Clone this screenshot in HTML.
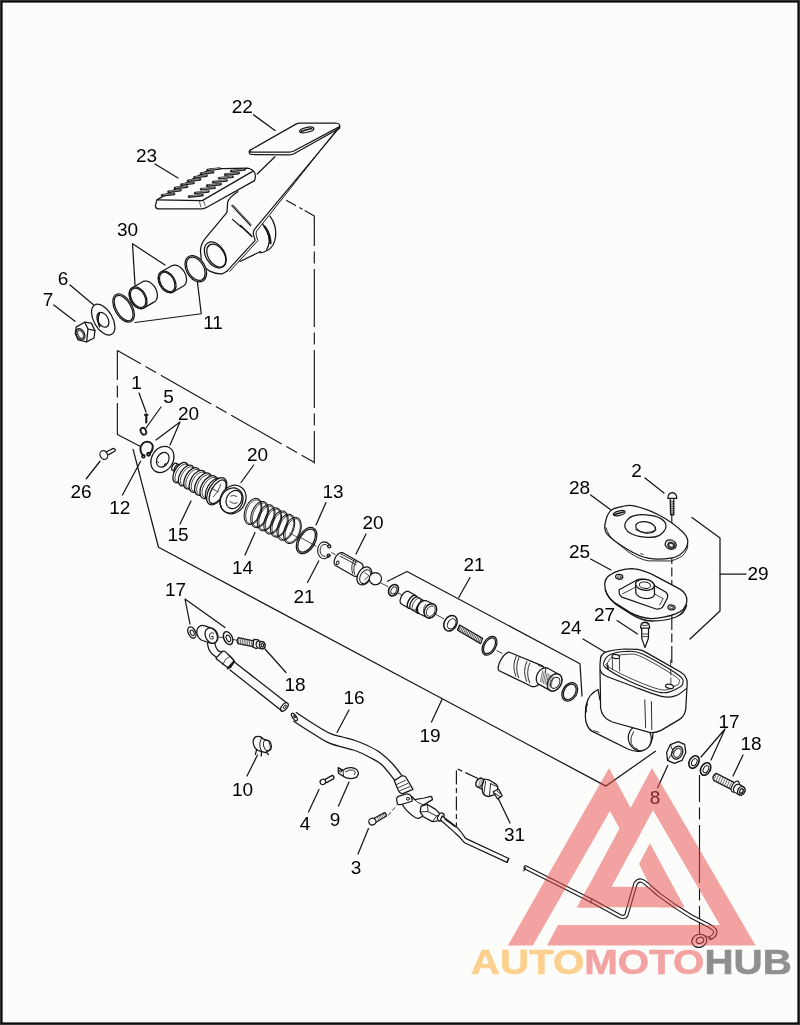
<!DOCTYPE html>
<html><head><meta charset="utf-8">
<style>
html,body{margin:0;padding:0;background:#fcfdfb;}
body{width:800px;height:1025px;overflow:hidden;position:relative;}
svg{position:absolute;left:0;top:0;}
.dr polyline,.dr path,.dr ellipse,.dr circle,.dr polygon,.dr line{fill:none;stroke:#161616;stroke-width:1.25;stroke-linejoin:round;stroke-linecap:round;}
.dr .d{stroke-dasharray:22 5;stroke-linecap:butt;}
.dr .d2{stroke-dasharray:4 2.5;stroke-linecap:butt;stroke-width:0.9;}
.lb text{font-family:"Liberation Sans",sans-serif;font-size:19px;text-anchor:middle;}
.logo polygon{fill:#e84a4a;stroke:none;}
.mb{mix-blend-mode:multiply;}
.brand{font-family:"Liberation Sans",sans-serif;font-weight:bold;font-size:35px;stroke-width:0.6px;}
</style></head><body>
<svg width="800" height="1025" viewBox="0 0 800 1025">
<rect x="0" y="0" width="800" height="1025" fill="#fcfdfb"/>
<g class="dr">
<polyline points="253.4,114.7 275,130.6"/>
<polyline points="155,164 178,178"/>
<polyline points="165,265 132.5,243.75 135,285"/>
<polyline points="70,285 93.75,305"/>
<polyline points="53.75,305 75,321.25"/>
<polyline points="197.5,282.5 201.25,313.75 135,322.5"/>
<polyline points="139,393 146,412"/>
<polyline points="161,407 146,428"/>
<polyline points="156,440 180,422 170,445"/>
<polyline points="100,461.25 86.25,478.75"/>
<polyline points="140.6,461.25 122.5,495"/>
<polyline points="253.75,465 241,482.5"/>
<polyline points="191,501 180,524"/>
<polyline points="255,532.5 245,555"/>
<polyline points="326,502.5 316,525"/>
<polyline points="318.75,561 307.5,582.5"/>
<polyline points="366,534 356,554"/>
<polyline points="470,577.5 458.75,597.5"/>
<polyline points="590.6,495 611,510"/>
<polyline points="645,478 664,493"/>
<polyline points="590.6,559 611,570"/>
<polyline points="617,620.6 637.5,634"/>
<polyline points="583,639 605.6,652.5"/>
<polyline points="190,624 185,599 225,627.5"/>
<polyline points="265,649 286,672.5"/>
<polyline points="349,710 337,732.5"/>
<polyline points="442,699.5 431.5,722"/>
<polyline points="701,757 725,729 711,760"/>
<polyline points="743,755 733,776"/>
<polyline points="257.5,755 247,776"/>
<polyline points="667.8,765.6 657.6,787.8"/>
<polyline points="319,789.5 308.5,812"/>
<polyline points="349,782 338.5,806"/>
<polyline points="498,798 510,823"/>
<polyline points="368.5,828.5 358,854"/>
<polyline points="133.1,449.4 158.5,547.25 605.9,786.1 655.4,751.25"/>
<polyline points="387.5,581.25 407,571.5 580,663.7 582,696"/>
<polyline points="692,517.5 720,538 720,611 690,639"/>
<polyline points="720,574 746,574"/>
<polyline points="286.2,200.2 314.3,216" style="stroke-dasharray:11.3 3.8 3.6 2.5 20;stroke-dashoffset:0;stroke-linecap:butt;stroke-width:1.15"/>
<polyline points="314.3,215.8 314.3,463.4" style="stroke-dasharray:58 5.4 12.2 5.4;stroke-dashoffset:27.8;stroke-linecap:butt;stroke-width:1.15"/>
<polyline points="117.35,350.5 314.5,462.6" style="stroke-dasharray:58 5.4 12.2 5.4;stroke-dashoffset:31;stroke-linecap:butt;stroke-width:1.15"/>
<polyline points="117.35,350.5 117.35,434.5 140.5,446.5" style="stroke-dasharray:58 5.4 12.2 5.4;stroke-dashoffset:28.5;stroke-linecap:butt;stroke-width:1.15"/>
<polyline points="671.8,514 671.8,700" style="stroke-dasharray:17 3.5 9 3.5;stroke-dashoffset:0;stroke-linecap:butt;stroke-width:1.15"/>
<polyline points="699.5,775 699.5,934" style="stroke-dasharray:58 5.4 12.2 5.4;stroke-dashoffset:31;stroke-linecap:butt;stroke-width:1.15"/>
<polyline points="478,778.6 456.4,768.4 456.4,829" style="stroke-dasharray:14 3.5 5 3.5;stroke-dashoffset:0;stroke-linecap:butt;stroke-width:1.15"/>
<path d="M340,126.8 L254.3,229.6 Q252.8,232 253.6,235 L255.2,240.3 L227.3,270.8" style="stroke-width:1.2"/>
<path d="M337.6,128.6 L256.6,231.2 Q255.6,233 256.3,235.5 L257.8,240.6 L229.8,271.3" style="stroke-width:1"/>
<path d="M249.8,150.4 L295.5,124.4 Q297.5,123.3 300,123.2 L335.8,123 Q340.2,123.4 339.6,126.6 L293.8,151 Q291.8,152 289.5,152 L252.5,152.1 Q248.6,152 249.8,150.4 Z" style="fill:#fcfdfb"/>
<path d="M249.3,151.2 Q248.8,154.3 251.8,154.5 L289.2,154.8 Q292.4,154.8 294.4,153.5 L339.6,128.3"/>
<ellipse cx="306.70" cy="129.90" rx="7.20" ry="2.40" transform="rotate(-12 306.70 129.90)" style="fill:#fcfdfb"/>
<path d="M301.5,131.2 L311.5,128.4" style="stroke-width:1.6"/>
<polyline points="257.20,174.00 275.00,156.80"/>
<path d="M238,191.5 Q228.5,197.8 227.6,202.5 L227,212.3 L205.5,238.2 Q199.8,245.5 200.6,252 L201.3,260.5 Q203.8,268.3 210.3,271.4 Q216.5,274.3 222.5,273.8 L227.3,271"/>
<polyline points="240.00,261.50 260.50,251.50"/>
<path d="M270,216.2 Q276.8,225.5 275.6,236.5 Q274.3,246.5 267.8,250.2 Q264,252.4 260,252.8"/>
<path d="M262.4,223.6 Q268.8,232 269.2,240 Q269,246.5 266.6,249.3"/>
<path d="M264.6,226.6 Q270.2,234 270.4,243" style="stroke-width:2.4;stroke-dasharray:1.2 1.3"/>
<ellipse cx="215.30" cy="255.00" rx="9.40" ry="14.20" transform="rotate(-31.7 215.30 255.00)"/>
<ellipse cx="216.30" cy="255.60" rx="8.00" ry="12.60" transform="rotate(-31.7 216.30 255.60)"/>
<polyline points="231.90,205.60 250.60,225.60"/>
<polyline points="232.90,204.80 251.20,224.60" style="stroke-width:0.8"/>
<polyline points="232.50,219.40 241.50,227.20"/>
<polyline points="240.60,225.60 251.90,236.30" style="stroke-width:1.6"/>
<path d="M156.9,199.9 L210.5,168.9 L247.6,168.2 Q252.5,169.2 254.6,172.6 Q256.2,176.6 254.5,180.6 L207.8,206.8 Q205,208.6 202.2,208.8 L158.5,208.9 Q155.3,208.6 155.4,205.5 Z" style="fill:#fcfdfb"/>
<path d="M157.2,199.9 L202.2,200.6 L252.2,171.6"/>
<polyline points="199.50,201.20 200.70,206.80" style="stroke-width:0.7"/>
<polyline points="203.60,201.00 205.20,205.40" style="stroke-width:0.7"/>
<path d="M162.00,195.40 L174.00,193.90" style="stroke-width:2.6;stroke:#222;stroke-linecap:round"/>
<path d="M163.20,194.90 L173.20,193.60" style="stroke-width:0.55;stroke:#e8e8e8"/>
<path d="M168.51,191.77 L180.51,190.27" style="stroke-width:2.6;stroke:#222;stroke-linecap:round"/>
<path d="M169.71,191.27 L179.71,189.97" style="stroke-width:0.55;stroke:#e8e8e8"/>
<path d="M175.03,188.14 L187.03,186.64" style="stroke-width:2.6;stroke:#222;stroke-linecap:round"/>
<path d="M176.23,187.64 L186.23,186.34" style="stroke-width:0.55;stroke:#e8e8e8"/>
<path d="M181.54,184.51 L193.54,183.01" style="stroke-width:2.6;stroke:#222;stroke-linecap:round"/>
<path d="M182.74,184.01 L192.74,182.71" style="stroke-width:0.55;stroke:#e8e8e8"/>
<path d="M188.06,180.89 L200.06,179.39" style="stroke-width:2.6;stroke:#222;stroke-linecap:round"/>
<path d="M189.26,180.39 L199.26,179.09" style="stroke-width:0.55;stroke:#e8e8e8"/>
<path d="M194.57,177.26 L206.57,175.76" style="stroke-width:2.6;stroke:#222;stroke-linecap:round"/>
<path d="M195.77,176.76 L205.77,175.46" style="stroke-width:0.55;stroke:#e8e8e8"/>
<path d="M201.09,173.63 L213.09,172.13" style="stroke-width:2.6;stroke:#222;stroke-linecap:round"/>
<path d="M202.29,173.13 L212.29,171.83" style="stroke-width:0.55;stroke:#e8e8e8"/>
<path d="M207.60,170.00 L219.60,168.50" style="stroke-width:2.6;stroke:#222;stroke-linecap:round"/>
<path d="M208.80,169.50 L218.80,168.20" style="stroke-width:0.55;stroke:#e8e8e8"/>
<path d="M189.00,196.60 L202.50,195.10" style="stroke-width:2.6;stroke:#222;stroke-linecap:round"/>
<path d="M190.20,196.10 L201.70,194.80" style="stroke-width:0.55;stroke:#e8e8e8"/>
<path d="M195.03,192.94 L208.53,191.44" style="stroke-width:2.6;stroke:#222;stroke-linecap:round"/>
<path d="M196.23,192.44 L207.73,191.14" style="stroke-width:0.55;stroke:#e8e8e8"/>
<path d="M201.06,189.29 L214.56,187.79" style="stroke-width:2.6;stroke:#222;stroke-linecap:round"/>
<path d="M202.26,188.79 L213.76,187.49" style="stroke-width:0.55;stroke:#e8e8e8"/>
<path d="M207.09,185.63 L220.59,184.13" style="stroke-width:2.6;stroke:#222;stroke-linecap:round"/>
<path d="M208.29,185.13 L219.79,183.83" style="stroke-width:0.55;stroke:#e8e8e8"/>
<path d="M213.11,181.97 L226.61,180.47" style="stroke-width:2.6;stroke:#222;stroke-linecap:round"/>
<path d="M214.31,181.47 L225.81,180.17" style="stroke-width:0.55;stroke:#e8e8e8"/>
<path d="M219.14,178.31 L232.64,176.81" style="stroke-width:2.6;stroke:#222;stroke-linecap:round"/>
<path d="M220.34,177.81 L231.84,176.51" style="stroke-width:0.55;stroke:#e8e8e8"/>
<path d="M225.17,174.66 L238.67,173.16" style="stroke-width:2.6;stroke:#222;stroke-linecap:round"/>
<path d="M226.37,174.16 L237.87,172.86" style="stroke-width:0.55;stroke:#e8e8e8"/>
<path d="M231.20,171.00 L244.70,169.50" style="stroke-width:2.6;stroke:#222;stroke-linecap:round"/>
<path d="M232.40,170.50 L243.90,169.20" style="stroke-width:0.55;stroke:#e8e8e8"/>
<ellipse cx="195.80" cy="268.75" rx="9.44" ry="14.11" transform="rotate(-30 195.80 268.75)" style="fill:#fcfdfb"/>
<ellipse cx="195.80" cy="268.75" rx="8.04" ry="12.61" transform="rotate(-30 195.80 268.75)"/>
<polygon points="158.30,278.51 158.32,277.53 158.43,276.58 158.62,275.68 158.89,274.85 159.25,274.08 159.68,273.39 160.18,272.78 160.75,272.25 161.38,271.82 171.78,265.82 172.47,265.49 173.21,265.26 173.99,265.13 174.80,265.10 175.65,265.18 176.51,265.36 177.38,265.64 178.25,266.03 179.12,266.50 179.97,267.07 180.80,267.72 181.60,268.45 182.36,269.25 183.07,270.12 183.73,271.04 184.34,272.01 184.87,273.02 185.34,274.05 185.73,275.10 186.05,276.16 186.28,277.22 186.43,278.26 186.50,279.29 186.48,280.27 186.37,281.22 186.18,282.12 185.91,282.95 185.55,283.72 185.12,284.41 184.62,285.02 184.05,285.55 183.42,285.98 173.02,291.98 172.33,292.31 171.59,292.54 170.81,292.67 170.00,292.70 169.15,292.62 168.29,292.44 167.42,292.16 166.55,291.77 165.68,291.30 164.83,290.73 164.00,290.08 163.20,289.35 162.44,288.55 161.73,287.68 161.07,286.76 160.46,285.79 159.93,284.78 159.46,283.75 159.07,282.70 158.75,281.64 158.52,280.58 158.37,279.54" style="fill:#fcfdfb"/>
<ellipse cx="167.20" cy="281.90" rx="7.78" ry="11.63" transform="rotate(-30 167.20 281.90)" style="fill:#fcfdfb"/>
<ellipse cx="167.20" cy="281.90" rx="6.68" ry="10.43" transform="rotate(-30 167.20 281.90)"/>
<polygon points="129.20,294.41 129.22,293.43 129.33,292.48 129.52,291.58 129.79,290.75 130.15,289.98 130.58,289.29 131.08,288.68 131.65,288.15 132.28,287.72 142.68,281.72 143.37,281.39 144.11,281.16 144.89,281.03 145.70,281.00 146.55,281.08 147.41,281.26 148.28,281.54 149.15,281.93 150.02,282.40 150.87,282.97 151.70,283.62 152.50,284.35 153.26,285.15 153.97,286.02 154.63,286.94 155.24,287.91 155.77,288.92 156.24,289.95 156.63,291.00 156.95,292.06 157.18,293.12 157.33,294.16 157.40,295.19 157.38,296.17 157.27,297.12 157.08,298.02 156.81,298.85 156.45,299.62 156.02,300.31 155.52,300.92 154.95,301.45 154.32,301.88 143.92,307.88 143.23,308.21 142.49,308.44 141.71,308.57 140.90,308.60 140.05,308.52 139.19,308.34 138.32,308.06 137.45,307.67 136.58,307.20 135.73,306.63 134.90,305.98 134.10,305.25 133.34,304.45 132.63,303.58 131.97,302.66 131.36,301.69 130.83,300.68 130.36,299.65 129.97,298.60 129.65,297.54 129.42,296.48 129.27,295.44" style="fill:#fcfdfb"/>
<ellipse cx="138.10" cy="297.80" rx="7.78" ry="11.63" transform="rotate(-30 138.10 297.80)" style="fill:#fcfdfb"/>
<ellipse cx="138.10" cy="297.80" rx="6.68" ry="10.43" transform="rotate(-30 138.10 297.80)"/>
<ellipse cx="123.60" cy="308.10" rx="8.69" ry="15.49" transform="rotate(-30 123.60 308.10)" style="fill:#fcfdfb"/>
<ellipse cx="123.60" cy="308.10" rx="7.29" ry="13.99" transform="rotate(-30 123.60 308.10)"/>
<ellipse cx="103.20" cy="319.60" rx="9.31" ry="16.95" transform="rotate(-30 103.20 319.60)" style="fill:#fcfdfb"/>
<ellipse cx="102.90" cy="319.80" rx="5.20" ry="8.00" transform="rotate(-30 102.90 319.80)"/>
<path d="M99.4,313.4 Q96.6,319.6 99.6,326.6" style="stroke-width:1.6"/>
<polygon points="76.30,326.90 84.70,322.20 91.30,323.10 95.00,330.60 94.00,338.00 86.60,341.90 78.10,340.00 75.30,333.40" style="fill:#fcfdfb"/>
<polyline points="84.70,322.20 88.00,329.00 86.60,341.90"/>
<polyline points="88.00,329.00 95.00,330.60"/>
<ellipse cx="80.40" cy="334.30" rx="4.00" ry="6.00" transform="rotate(-25 80.40 334.30)" style="fill:#fcfdfb"/>
<ellipse cx="80.60" cy="334.40" rx="2.60" ry="4.40" transform="rotate(-25 80.60 334.40)" style="stroke-width:1.5;stroke:#555"/>
<path d="M146.25,415 L146.25,422.5" style="stroke-width:2.1"/>
<path d="M144.6,415.2 Q146.25,412.6 147.9,415.2" style="stroke-width:1.5"/>
<ellipse cx="143.40" cy="431.25" rx="2.60" ry="3.60" transform="rotate(-25 143.40 431.25)" style="stroke-width:1.8"/>
<path d="M106.6,451.8 L113.2,448.4 Q115.6,448.8 115.2,451 L108.6,454.6" style="fill:#fcfdfb"/>
<ellipse cx="103.80" cy="455.00" rx="3.60" ry="4.60" transform="rotate(-28 103.80 455.00)" style="fill:#fcfdfb"/>
<path d="M143.2,455.6 Q139.6,451.6 140.6,447 Q142.6,441.6 147.4,441.6 Q152.6,442.4 152.8,446.6 Q152.8,451 149.6,453.6" style="stroke-width:1.9"/>
<ellipse cx="143.40" cy="456.20" rx="1.50" ry="1.50" transform="rotate(0 143.40 456.20)" style="stroke-width:1.5"/>
<ellipse cx="148.60" cy="454.20" rx="1.50" ry="1.50" transform="rotate(0 148.60 454.20)" style="stroke-width:1.9"/>
<ellipse cx="162.40" cy="459.40" rx="10.77" ry="13.79" transform="rotate(30 162.40 459.40)" style="fill:#fcfdfb"/>
<ellipse cx="162.75" cy="459.75" rx="5.80" ry="7.80" transform="rotate(30 162.75 459.75)"/>
<path d="M160,454.2 l1.8,-0.8 M165.8,463.4 l-1.6,1.2 M157.6,461.6 l1.2,1.2" style="stroke-width:1.0"/>
<polygon points="171.64,468.47 171.66,468.15 171.70,467.81 171.78,467.46 171.87,467.11 172.00,466.75 172.14,466.40 172.31,466.04 172.49,465.70 172.70,465.37 172.92,465.05 173.16,464.74 173.41,464.46 173.66,464.20 173.93,463.96 174.20,463.75 174.47,463.57 174.74,463.42 175.00,463.31 175.27,463.23 175.52,463.18 175.76,463.17 175.99,463.19 176.20,463.24 176.40,463.34 179.00,464.74 179.18,464.86 179.33,465.02 179.47,465.20 179.58,465.42 179.66,465.66 179.72,465.93 179.75,466.22 179.76,466.53 179.74,466.85 179.70,467.19 179.62,467.54 179.53,467.89 179.40,468.25 179.26,468.60 179.09,468.96 178.91,469.30 178.70,469.63 178.48,469.95 178.24,470.26 177.99,470.54 177.74,470.80 177.47,471.04 177.20,471.25 176.93,471.43 176.66,471.58 176.40,471.69 176.13,471.77 175.88,471.82 175.64,471.83 175.41,471.81 175.20,471.76 175.00,471.66 172.40,470.26 172.22,470.14 172.07,469.98 171.93,469.80 171.82,469.58 171.74,469.34 171.68,469.07 171.65,468.78" style="fill:#fcfdfb"/>
<ellipse cx="177.00" cy="468.20" rx="2.20" ry="4.00" transform="rotate(30 177.00 468.20)" style="fill:#fcfdfb"/>
<ellipse cx="180.50" cy="472.60" rx="6.00" ry="11.20" transform="rotate(30 180.50 472.60)" style="fill:#fcfdfb"/>
<ellipse cx="181.60" cy="473.15" rx="5.10" ry="10.00" transform="rotate(30 181.60 473.15)" style="stroke-width:0.7"/>
<ellipse cx="186.17" cy="475.50" rx="6.27" ry="11.47" transform="rotate(30 186.17 475.50)" style="fill:#fcfdfb"/>
<ellipse cx="187.27" cy="476.05" rx="5.37" ry="10.27" transform="rotate(30 187.27 476.05)" style="stroke-width:0.7"/>
<ellipse cx="191.83" cy="478.40" rx="6.53" ry="11.73" transform="rotate(30 191.83 478.40)" style="fill:#fcfdfb"/>
<ellipse cx="192.93" cy="478.95" rx="5.63" ry="10.53" transform="rotate(30 192.93 478.95)" style="stroke-width:0.7"/>
<ellipse cx="197.50" cy="481.30" rx="6.80" ry="12.00" transform="rotate(30 197.50 481.30)" style="fill:#fcfdfb"/>
<ellipse cx="198.60" cy="481.85" rx="5.90" ry="10.80" transform="rotate(30 198.60 481.85)" style="stroke-width:0.7"/>
<ellipse cx="203.17" cy="484.20" rx="7.07" ry="12.27" transform="rotate(30 203.17 484.20)" style="fill:#fcfdfb"/>
<ellipse cx="204.27" cy="484.75" rx="6.17" ry="11.07" transform="rotate(30 204.27 484.75)" style="stroke-width:0.7"/>
<ellipse cx="208.83" cy="487.10" rx="7.33" ry="12.53" transform="rotate(30 208.83 487.10)" style="fill:#fcfdfb"/>
<ellipse cx="209.93" cy="487.65" rx="6.43" ry="11.33" transform="rotate(30 209.93 487.65)" style="stroke-width:0.7"/>
<ellipse cx="214.50" cy="490.00" rx="7.60" ry="12.80" transform="rotate(30 214.50 490.00)" style="fill:#fcfdfb"/>
<ellipse cx="215.60" cy="490.55" rx="6.70" ry="11.60" transform="rotate(30 215.60 490.55)" style="stroke-width:0.7"/>
<ellipse cx="216.75" cy="491.25" rx="7.87" ry="14.91" transform="rotate(30 216.75 491.25)" style="fill:#fcfdfb"/>
<ellipse cx="217.60" cy="491.80" rx="6.27" ry="13.11" transform="rotate(30 217.60 491.80)"/>
<path d="M211.6,488.4 L217.8,491.6 M213.4,496.6 L217.8,491.6 M217.8,491.6 L220.6,484.6" style="stroke-width:0.8"/>
<ellipse cx="233.00" cy="499.50" rx="12.49" ry="14.79" transform="rotate(30 233.00 499.50)" style="fill:#fcfdfb"/>
<ellipse cx="231.60" cy="500.50" rx="10.89" ry="12.99" transform="rotate(30 231.60 500.50)"/>
<ellipse cx="234.00" cy="499.50" rx="7.40" ry="9.60" transform="rotate(30 234.00 499.50)"/>
<path d="M230.6,496 Q233.6,494.6 236.8,496.4 M229.8,501.6 Q233,504.6 237.2,503" style="stroke-width:0.8"/>
<polygon points="260.52,514.14 260.08,515.24 259.60,516.31 259.06,517.35 258.47,518.34 257.85,519.28 257.18,520.16 256.49,520.97 255.77,521.71 255.03,522.37 254.27,522.95 253.50,523.44 252.73,523.84 251.96,524.14 251.20,524.34 250.45,524.45 249.72,524.46 249.02,524.37 248.35,524.18 247.71,523.89 247.11,523.51 246.56,523.04 246.06,522.47 245.61,521.83 245.21,521.10 244.88,520.30 244.60,519.43 244.40,518.50 244.25,517.52 244.17,516.49 244.16,515.42 244.22,514.32 244.34,513.20 244.53,512.06 244.79,510.92 245.11,509.79 245.48,508.66 245.92,507.56 246.40,506.49 246.94,505.45 247.53,504.46 248.15,503.52 248.82,502.64 249.51,501.83 250.23,501.09 250.97,500.43 251.73,499.85 252.50,499.36 253.27,498.96 254.04,498.66 254.80,498.46 255.55,498.35 256.28,498.34 256.98,498.43 257.65,498.62 258.29,498.91 258.89,499.29 259.44,499.76 259.94,500.33 260.39,500.97 260.79,501.70 261.12,502.50 261.40,503.37 261.60,504.30 261.75,505.28 261.83,506.31 261.84,507.38 261.78,508.48 261.66,509.60 261.47,510.74 261.21,511.88 260.89,513.01" style="stroke-width:1.05"/>
<polygon points="259.60,513.89 259.21,514.89 258.77,515.86 258.29,516.80 257.78,517.71 257.23,518.56 256.65,519.36 256.04,520.11 255.42,520.78 254.78,521.39 254.12,521.93 253.47,522.38 252.80,522.76 252.15,523.04 251.50,523.24 250.87,523.36 250.25,523.38 249.66,523.31 249.09,523.16 248.56,522.91 248.06,522.58 247.61,522.17 247.19,521.68 246.83,521.11 246.51,520.46 246.24,519.75 246.03,518.98 245.87,518.15 245.77,517.27 245.73,516.35 245.74,515.39 245.82,514.41 245.94,513.40 246.13,512.38 246.37,511.35 246.66,510.32 247.00,509.31 247.39,508.31 247.83,507.34 248.31,506.40 248.82,505.49 249.37,504.64 249.95,503.84 250.56,503.09 251.18,502.42 251.82,501.81 252.48,501.27 253.13,500.82 253.80,500.44 254.45,500.16 255.10,499.96 255.73,499.84 256.35,499.82 256.94,499.89 257.51,500.04 258.04,500.29 258.54,500.62 258.99,501.03 259.41,501.52 259.77,502.09 260.09,502.74 260.36,503.45 260.57,504.22 260.73,505.05 260.83,505.93 260.87,506.85 260.86,507.81 260.78,508.79 260.66,509.80 260.47,510.82 260.23,511.85 259.94,512.88" style="stroke-width:0.9"/>
<polygon points="267.08,517.30 266.65,518.41 266.16,519.48 265.62,520.52 265.04,521.51 264.41,522.45 263.75,523.33 263.06,524.14 262.34,524.88 261.59,525.54 260.84,526.12 260.07,526.60 259.30,527.00 258.53,527.31 257.77,527.51 257.02,527.62 256.29,527.63 255.59,527.54 254.92,527.35 254.28,527.06 253.68,526.68 253.13,526.20 252.62,525.64 252.17,524.99 251.78,524.27 251.44,523.47 251.17,522.60 250.96,521.67 250.82,520.69 250.74,519.66 250.73,518.59 250.79,517.49 250.91,516.37 251.10,515.23 251.36,514.09 251.67,512.95 252.05,511.83 252.48,510.73 252.97,509.65 253.51,508.62 254.09,507.62 254.72,506.69 255.38,505.81 256.08,505.00 256.80,504.26 257.54,503.60 258.30,503.02 259.07,502.53 259.84,502.13 260.61,501.83 261.37,501.62 262.11,501.51 262.84,501.51 263.55,501.60 264.22,501.79 264.86,502.07 265.45,502.46 266.01,502.93 266.51,503.49 266.96,504.14 267.35,504.87 267.69,505.67 267.96,506.54 268.17,507.46 268.32,508.45 268.39,509.48 268.40,510.55 268.35,511.65 268.22,512.77 268.03,513.90 267.78,515.04 267.46,516.18" style="stroke-width:1.05"/>
<polygon points="266.16,517.06 265.77,518.06 265.34,519.03 264.86,519.97 264.34,520.87 263.79,521.73 263.22,522.53 262.61,523.27 261.99,523.95 261.34,524.56 260.69,525.09 260.03,525.55 259.37,525.92 258.71,526.21 258.07,526.41 257.43,526.52 256.82,526.55 256.22,526.48 255.66,526.32 255.13,526.08 254.63,525.75 254.17,525.34 253.76,524.84 253.39,524.27 253.08,523.63 252.81,522.92 252.60,522.15 252.44,521.32 252.34,520.44 252.30,519.52 252.31,518.56 252.38,517.57 252.51,516.57 252.70,515.54 252.94,514.52 253.23,513.49 253.57,512.48 253.96,511.48 254.40,510.50 254.87,509.56 255.39,508.66 255.94,507.81 256.52,507.00 257.12,506.26 257.75,505.58 258.39,504.97 259.04,504.44 259.70,503.98 260.36,503.61 261.02,503.32 261.67,503.12 262.30,503.01 262.92,502.99 263.51,503.05 264.07,503.21 264.61,503.45 265.10,503.78 265.56,504.20 265.97,504.69 266.34,505.26 266.66,505.90 266.92,506.61 267.14,507.39 267.29,508.21 267.39,509.09 267.44,510.01 267.42,510.97 267.35,511.96 267.22,512.97 267.04,513.99 266.80,515.02 266.51,516.04" style="stroke-width:0.9"/>
<polygon points="273.65,520.47 273.22,521.57 272.73,522.65 272.19,523.68 271.61,524.68 270.98,525.61 270.32,526.49 269.62,527.30 268.90,528.04 268.16,528.70 267.40,529.28 266.63,529.77 265.86,530.17 265.09,530.47 264.33,530.68 263.59,530.79 262.86,530.79 262.15,530.70 261.48,530.51 260.84,530.23 260.25,529.84 259.69,529.37 259.19,528.81 258.74,528.16 258.35,527.43 258.01,526.63 257.74,525.76 257.53,524.84 257.38,523.85 257.31,522.82 257.30,521.75 257.35,520.65 257.48,519.53 257.67,518.40 257.92,517.26 258.24,516.12 258.62,515.00 259.05,513.89 259.54,512.82 260.08,511.78 260.66,510.79 261.29,509.85 261.95,508.97 262.64,508.16 263.36,507.42 264.11,506.76 264.86,506.18 265.63,505.70 266.40,505.30 267.17,504.99 267.93,504.79 268.68,504.68 269.41,504.67 270.11,504.76 270.78,504.95 271.42,505.24 272.02,505.62 272.57,506.10 273.08,506.66 273.53,507.31 273.92,508.03 274.26,508.83 274.53,509.70 274.74,510.63 274.88,511.61 274.96,512.64 274.97,513.71 274.91,514.81 274.79,515.93 274.60,517.07 274.34,518.21 274.03,519.35" style="stroke-width:1.05"/>
<polygon points="272.73,520.22 272.34,521.22 271.90,522.20 271.43,523.14 270.91,524.04 270.36,524.89 269.78,525.70 269.18,526.44 268.55,527.12 267.91,527.73 267.26,528.26 266.60,528.72 265.94,529.09 265.28,529.38 264.63,529.58 264.00,529.69 263.38,529.71 262.79,529.65 262.23,529.49 261.69,529.25 261.20,528.92 260.74,528.50 260.33,528.01 259.96,527.44 259.64,526.80 259.38,526.09 259.16,525.31 259.01,524.49 258.91,523.61 258.86,522.69 258.88,521.73 258.95,520.74 259.08,519.73 259.26,518.71 259.50,517.68 259.79,516.66 260.14,515.64 260.53,514.64 260.96,513.67 261.44,512.73 261.96,511.83 262.51,510.97 263.08,510.17 263.69,509.43 264.31,508.75 264.96,508.14 265.61,507.61 266.27,507.15 266.93,506.78 267.59,506.49 268.23,506.29 268.87,506.18 269.48,506.15 270.08,506.22 270.64,506.38 271.17,506.62 271.67,506.95 272.13,507.36 272.54,507.86 272.91,508.43 273.22,509.07 273.49,509.78 273.70,510.55 273.86,511.38 273.96,512.26 274.00,513.18 273.99,514.14 273.92,515.13 273.79,516.13 273.60,517.16 273.36,518.18 273.07,519.21" style="stroke-width:0.9"/>
<polygon points="280.22,523.64 279.78,524.74 279.30,525.81 278.76,526.85 278.17,527.84 277.55,528.78 276.88,529.66 276.19,530.47 275.47,531.21 274.73,531.87 273.97,532.45 273.20,532.94 272.43,533.34 271.66,533.64 270.90,533.84 270.15,533.95 269.42,533.96 268.72,533.87 268.05,533.68 267.41,533.39 266.81,533.01 266.26,532.54 265.76,531.97 265.31,531.33 264.91,530.60 264.58,529.80 264.30,528.93 264.10,528.00 263.95,527.02 263.87,525.99 263.86,524.92 263.92,523.82 264.04,522.70 264.23,521.56 264.49,520.42 264.81,519.29 265.18,518.16 265.62,517.06 266.10,515.99 266.64,514.95 267.23,513.96 267.85,513.02 268.52,512.14 269.21,511.33 269.93,510.59 270.67,509.93 271.43,509.35 272.20,508.86 272.97,508.46 273.74,508.16 274.50,507.96 275.25,507.85 275.98,507.84 276.68,507.93 277.35,508.12 277.99,508.41 278.59,508.79 279.14,509.26 279.64,509.83 280.09,510.47 280.49,511.20 280.82,512.00 281.10,512.87 281.30,513.80 281.45,514.78 281.53,515.81 281.54,516.88 281.48,517.98 281.36,519.10 281.17,520.24 280.91,521.38 280.59,522.51" style="stroke-width:1.05"/>
<polygon points="279.30,523.39 278.91,524.39 278.47,525.36 277.99,526.30 277.48,527.21 276.93,528.06 276.35,528.86 275.74,529.61 275.12,530.28 274.48,530.89 273.82,531.43 273.17,531.88 272.50,532.26 271.85,532.54 271.20,532.74 270.57,532.86 269.95,532.88 269.36,532.81 268.79,532.66 268.26,532.41 267.76,532.08 267.31,531.67 266.89,531.18 266.53,530.61 266.21,529.96 265.94,529.25 265.73,528.48 265.57,527.65 265.47,526.77 265.43,525.85 265.44,524.89 265.52,523.91 265.64,522.90 265.83,521.88 266.07,520.85 266.36,519.82 266.70,518.81 267.09,517.81 267.53,516.84 268.01,515.90 268.52,514.99 269.07,514.14 269.65,513.34 270.26,512.59 270.88,511.92 271.52,511.31 272.18,510.77 272.83,510.32 273.50,509.94 274.15,509.66 274.80,509.46 275.43,509.34 276.05,509.32 276.64,509.39 277.21,509.54 277.74,509.79 278.24,510.12 278.69,510.53 279.11,511.02 279.47,511.59 279.79,512.24 280.06,512.95 280.27,513.72 280.43,514.55 280.53,515.43 280.57,516.35 280.56,517.31 280.48,518.29 280.36,519.30 280.17,520.32 279.93,521.35 279.64,522.38" style="stroke-width:0.9"/>
<polygon points="286.78,526.80 286.35,527.91 285.86,528.98 285.32,530.02 284.74,531.01 284.11,531.95 283.45,532.83 282.76,533.64 282.04,534.38 281.29,535.04 280.54,535.62 279.77,536.10 279.00,536.50 278.23,536.81 277.47,537.01 276.72,537.12 275.99,537.13 275.29,537.04 274.62,536.85 273.98,536.56 273.38,536.18 272.83,535.70 272.32,535.14 271.87,534.49 271.48,533.77 271.14,532.97 270.87,532.10 270.66,531.17 270.52,530.19 270.44,529.16 270.43,528.09 270.49,526.99 270.61,525.87 270.80,524.73 271.06,523.59 271.37,522.45 271.75,521.33 272.18,520.23 272.67,519.15 273.21,518.12 273.79,517.12 274.42,516.19 275.08,515.31 275.78,514.50 276.50,513.76 277.24,513.10 278.00,512.52 278.77,512.03 279.54,511.63 280.31,511.33 281.07,511.12 281.81,511.01 282.54,511.01 283.25,511.10 283.92,511.29 284.56,511.57 285.15,511.96 285.71,512.43 286.21,512.99 286.66,513.64 287.05,514.37 287.39,515.17 287.66,516.04 287.87,516.96 288.02,517.95 288.09,518.98 288.10,520.05 288.05,521.15 287.92,522.27 287.73,523.40 287.48,524.54 287.16,525.68" style="stroke-width:1.05"/>
<polygon points="285.86,526.56 285.47,527.56 285.04,528.53 284.56,529.47 284.04,530.37 283.49,531.23 282.92,532.03 282.31,532.77 281.69,533.45 281.04,534.06 280.39,534.59 279.73,535.05 279.07,535.42 278.41,535.71 277.77,535.91 277.13,536.02 276.52,536.05 275.92,535.98 275.36,535.82 274.83,535.58 274.33,535.25 273.87,534.84 273.46,534.34 273.09,533.77 272.78,533.13 272.51,532.42 272.30,531.65 272.14,530.82 272.04,529.94 272.00,529.02 272.01,528.06 272.08,527.07 272.21,526.07 272.40,525.04 272.64,524.02 272.93,522.99 273.27,521.98 273.66,520.98 274.10,520.00 274.57,519.06 275.09,518.16 275.64,517.31 276.22,516.50 276.82,515.76 277.45,515.08 278.09,514.47 278.74,513.94 279.40,513.48 280.06,513.11 280.72,512.82 281.37,512.62 282.00,512.51 282.62,512.49 283.21,512.55 283.77,512.71 284.31,512.95 284.80,513.28 285.26,513.70 285.67,514.19 286.04,514.76 286.36,515.40 286.62,516.11 286.84,516.89 286.99,517.71 287.09,518.59 287.14,519.51 287.12,520.47 287.05,521.46 286.92,522.47 286.74,523.49 286.50,524.52 286.21,525.54" style="stroke-width:0.9"/>
<polygon points="293.35,529.97 292.92,531.07 292.43,532.15 291.89,533.18 291.31,534.18 290.68,535.11 290.02,535.99 289.32,536.80 288.60,537.54 287.86,538.20 287.10,538.78 286.33,539.27 285.56,539.67 284.79,539.97 284.03,540.18 283.29,540.29 282.56,540.29 281.85,540.20 281.18,540.01 280.54,539.73 279.95,539.34 279.39,538.87 278.89,538.31 278.44,537.66 278.05,536.93 277.71,536.13 277.44,535.26 277.23,534.34 277.08,533.35 277.01,532.32 277.00,531.25 277.05,530.15 277.18,529.03 277.37,527.90 277.62,526.76 277.94,525.62 278.32,524.50 278.75,523.39 279.24,522.32 279.78,521.28 280.36,520.29 280.99,519.35 281.65,518.47 282.34,517.66 283.06,516.92 283.81,516.26 284.56,515.68 285.33,515.20 286.10,514.80 286.87,514.49 287.63,514.29 288.38,514.18 289.11,514.17 289.81,514.26 290.48,514.45 291.12,514.74 291.72,515.12 292.27,515.60 292.78,516.16 293.23,516.81 293.62,517.53 293.96,518.33 294.23,519.20 294.44,520.13 294.58,521.11 294.66,522.14 294.67,523.21 294.61,524.31 294.49,525.43 294.30,526.57 294.04,527.71 293.73,528.85" style="stroke-width:1.05"/>
<polygon points="292.43,529.72 292.04,530.72 291.60,531.70 291.13,532.64 290.61,533.54 290.06,534.39 289.48,535.20 288.88,535.94 288.25,536.62 287.61,537.23 286.96,537.76 286.30,538.22 285.64,538.59 284.98,538.88 284.33,539.08 283.70,539.19 283.08,539.21 282.49,539.15 281.93,538.99 281.39,538.75 280.90,538.42 280.44,538.00 280.03,537.51 279.66,536.94 279.34,536.30 279.08,535.59 278.86,534.81 278.71,533.99 278.61,533.11 278.56,532.19 278.58,531.23 278.65,530.24 278.78,529.23 278.96,528.21 279.20,527.18 279.49,526.16 279.84,525.14 280.23,524.14 280.66,523.17 281.14,522.23 281.66,521.33 282.21,520.47 282.78,519.67 283.39,518.93 284.01,518.25 284.66,517.64 285.31,517.11 285.97,516.65 286.63,516.28 287.29,515.99 287.93,515.79 288.57,515.68 289.18,515.65 289.78,515.72 290.34,515.88 290.87,516.12 291.37,516.45 291.83,516.86 292.24,517.36 292.61,517.93 292.92,518.57 293.19,519.28 293.40,520.05 293.56,520.88 293.66,521.76 293.70,522.68 293.69,523.64 293.62,524.63 293.49,525.63 293.30,526.66 293.06,527.68 292.77,528.71" style="stroke-width:0.9"/>
<polygon points="299.92,533.14 299.48,534.24 299.00,535.31 298.46,536.35 297.87,537.34 297.25,538.28 296.58,539.16 295.89,539.97 295.17,540.71 294.43,541.37 293.67,541.95 292.90,542.44 292.13,542.84 291.36,543.14 290.60,543.34 289.85,543.45 289.12,543.46 288.42,543.37 287.75,543.18 287.11,542.89 286.51,542.51 285.96,542.04 285.46,541.47 285.01,540.83 284.61,540.10 284.28,539.30 284.00,538.43 283.80,537.50 283.65,536.52 283.57,535.49 283.56,534.42 283.62,533.32 283.74,532.20 283.93,531.06 284.19,529.92 284.51,528.79 284.88,527.66 285.32,526.56 285.80,525.49 286.34,524.45 286.93,523.46 287.55,522.52 288.22,521.64 288.91,520.83 289.63,520.09 290.37,519.43 291.13,518.85 291.90,518.36 292.67,517.96 293.44,517.66 294.20,517.46 294.95,517.35 295.68,517.34 296.38,517.43 297.05,517.62 297.69,517.91 298.29,518.29 298.84,518.76 299.34,519.33 299.79,519.97 300.19,520.70 300.52,521.50 300.80,522.37 301.00,523.30 301.15,524.28 301.23,525.31 301.24,526.38 301.18,527.48 301.06,528.60 300.87,529.74 300.61,530.88 300.29,532.01" style="stroke-width:1.05"/>
<polygon points="299.00,532.89 298.61,533.89 298.17,534.86 297.69,535.80 297.18,536.71 296.63,537.56 296.05,538.36 295.44,539.11 294.82,539.78 294.18,540.39 293.52,540.93 292.87,541.38 292.20,541.76 291.55,542.04 290.90,542.24 290.27,542.36 289.65,542.38 289.06,542.31 288.49,542.16 287.96,541.91 287.46,541.58 287.01,541.17 286.59,540.68 286.23,540.11 285.91,539.46 285.64,538.75 285.43,537.98 285.27,537.15 285.17,536.27 285.13,535.35 285.14,534.39 285.22,533.41 285.34,532.40 285.53,531.38 285.77,530.35 286.06,529.32 286.40,528.31 286.79,527.31 287.23,526.34 287.71,525.40 288.22,524.49 288.77,523.64 289.35,522.84 289.96,522.09 290.58,521.42 291.22,520.81 291.88,520.27 292.53,519.82 293.20,519.44 293.85,519.16 294.50,518.96 295.13,518.84 295.75,518.82 296.34,518.89 296.91,519.04 297.44,519.29 297.94,519.62 298.39,520.03 298.81,520.52 299.17,521.09 299.49,521.74 299.76,522.45 299.97,523.22 300.13,524.05 300.23,524.93 300.27,525.85 300.26,526.81 300.18,527.79 300.06,528.80 299.87,529.82 299.63,530.85 299.34,531.88" style="stroke-width:0.9"/>
<polyline points="290.00,533.20 298.00,537.60" style="stroke-width:0.7"/>
<ellipse cx="306.60" cy="540.60" rx="8.56" ry="14.30" transform="rotate(30 306.60 540.60)" style="fill:#fcfdfb"/>
<ellipse cx="306.60" cy="540.60" rx="7.06" ry="12.70" transform="rotate(30 306.60 540.60)"/>
<polyline points="299.60,537.00 316.00,546.20" style="stroke-width:0.8"/>
<path d="M329.6,544.6 Q326,540.4 321.4,542.6 Q316.6,546 318,553.4 Q320.4,559.6 325.4,558.6 Q328,557.6 329.4,555.2" style="stroke-width:1.1"/>
<path d="M328,545.8 Q325,543.4 322.6,544.8 Q319.4,547.6 320.4,553 Q322,557 325.2,556.4" style="stroke-width:0.9"/>
<ellipse cx="329.30" cy="546.40" rx="1.50" ry="1.50" transform="rotate(0 329.30 546.40)" style="stroke-width:1.3"/>
<ellipse cx="328.60" cy="555.60" rx="1.50" ry="1.50" transform="rotate(0 328.60 555.60)" style="stroke-width:1.3"/>
<polyline points="331.60,552.60 335.20,554.60" style="stroke-width:0.8"/>
<polygon points="334.17,562.31 334.17,561.69 334.23,561.05 334.34,560.39 334.50,559.73 334.71,559.06 334.97,558.39 335.27,557.74 335.62,557.10 336.00,556.48 336.41,555.89 336.86,555.34 337.34,554.82 337.83,554.35 338.34,553.93 338.87,553.56 339.40,553.24 339.93,552.99 340.46,552.79 340.99,552.66 341.49,552.60 341.98,552.60 342.45,552.67 342.89,552.80 343.30,552.99 361.30,563.19 361.67,563.45 362.01,563.76 362.30,564.14 362.54,564.56 362.74,565.03 362.89,565.55 362.99,566.11 363.03,566.69 363.03,567.31 362.97,567.95 362.86,568.61 362.70,569.27 362.49,569.94 362.23,570.61 361.93,571.26 361.58,571.90 361.20,572.52 360.79,573.11 360.34,573.66 359.86,574.18 359.37,574.65 358.86,575.07 358.33,575.44 357.80,575.76 357.27,576.01 356.74,576.21 356.21,576.34 355.71,576.40 355.22,576.40 354.75,576.33 354.31,576.20 353.90,576.01 335.90,565.81 335.53,565.55 335.19,565.24 334.90,564.86 334.66,564.44 334.46,563.97 334.31,563.45 334.21,562.89" style="fill:#fcfdfb"/>
<ellipse cx="337.60" cy="562.90" rx="1.30" ry="1.90" transform="rotate(30 337.60 562.90)" style="stroke-width:1.0"/>
<path d="M340.6,553.8 L357,562.4 M340.2,556.2 L356,564.6" style="stroke-width:0.9"/>
<path d="M353.6,560.6 Q350.4,566 352.6,573.4 M355.6,561.8 Q352.6,567 354.6,574.4" style="stroke-width:0.9"/>
<ellipse cx="364.40" cy="575.90" rx="6.60" ry="9.60" transform="rotate(30 364.40 575.90)" style="fill:#fcfdfb;stroke-width:1.3"/>
<ellipse cx="365.20" cy="576.60" rx="4.80" ry="7.40" transform="rotate(30 365.20 576.60)" style="stroke-width:0.9"/>
<ellipse cx="375.40" cy="578.70" rx="6.10" ry="6.10" transform="rotate(0 375.40 578.70)" style="fill:#fcfdfb"/>
<path d="M364.6,572.4 L368.6,575.4 M364.6,580 L368.6,576" style="stroke-width:0.8"/>
<polyline points="380.50,582.80 388.00,586.60" style="stroke-width:0.8"/>
<polyline points="396.60,592.20 402.00,595.00" style="stroke-width:0.8"/>
<polyline points="435.50,614.30 443.60,618.60" style="stroke-width:0.8"/>
<polyline points="496.90,650.60 502.20,653.40" style="stroke-width:0.8"/>
<polyline points="565.60,689.40 576.00,695.60" style="stroke-width:0.8"/>
<ellipse cx="393.50" cy="590.25" rx="4.60" ry="6.00" transform="rotate(30 393.50 590.25)" style="stroke-width:1.6;fill:#fcfdfb"/>
<ellipse cx="393.80" cy="590.40" rx="2.60" ry="3.80" transform="rotate(30 393.80 590.40)" style="stroke-width:0.9"/>
<polygon points="400.13,600.87 400.17,600.29 400.26,599.68 400.40,599.06 400.58,598.43 400.81,597.79 401.07,597.15 401.37,596.52 401.71,595.90 402.08,595.30 402.47,594.72 402.90,594.17 403.34,593.66 403.79,593.19 404.26,592.76 404.74,592.38 405.22,592.05 405.70,591.77 406.16,591.56 406.62,591.41 407.07,591.31 407.49,591.28 407.89,591.31 408.26,591.41 408.60,591.56 415.60,595.56 415.91,595.78 416.17,596.06 416.40,596.38 416.59,596.77 416.73,597.20 416.82,597.67 416.87,598.19 416.87,598.73 416.83,599.31 416.74,599.92 416.60,600.54 416.42,601.17 416.19,601.81 415.93,602.45 415.63,603.08 415.29,603.70 414.92,604.30 414.53,604.88 414.10,605.43 413.66,605.94 413.21,606.41 412.74,606.84 412.26,607.22 411.78,607.55 411.30,607.83 410.84,608.04 410.38,608.19 409.93,608.29 409.51,608.32 409.11,608.29 408.74,608.19 408.40,608.04 401.40,604.04 401.09,603.82 400.83,603.54 400.60,603.22 400.41,602.83 400.27,602.40 400.18,601.93 400.13,601.41" style="fill:#fcfdfb"/>
<ellipse cx="412.00" cy="601.80" rx="3.60" ry="7.20" transform="rotate(30 412.00 601.80)" style="fill:#fcfdfb;stroke-width:1.5"/>
<polygon points="409.86,606.68 409.86,606.15 409.90,605.60 409.99,605.02 410.12,604.43 410.30,603.82 410.52,603.21 410.77,602.60 411.06,601.99 411.38,601.40 411.74,600.82 412.12,600.27 412.52,599.74 412.94,599.25 413.38,598.80 413.82,598.38 414.28,598.02 414.73,597.70 415.19,597.44 415.64,597.23 416.07,597.08 416.49,596.99 416.90,596.96 417.28,596.99 417.63,597.08 417.95,597.22 424.35,601.02 424.64,601.23 424.89,601.49 425.11,601.80 425.28,602.17 425.41,602.58 425.50,603.03 425.54,603.52 425.54,604.05 425.50,604.60 425.41,605.18 425.28,605.77 425.10,606.38 424.88,606.99 424.63,607.60 424.34,608.21 424.02,608.80 423.66,609.38 423.28,609.93 422.88,610.46 422.46,610.95 422.02,611.40 421.58,611.82 421.12,612.18 420.67,612.50 420.21,612.76 419.76,612.97 419.33,613.12 418.91,613.21 418.50,613.24 418.12,613.21 417.77,613.12 417.45,612.98 411.05,609.18 410.76,608.97 410.51,608.71 410.29,608.40 410.12,608.03 409.99,607.62 409.90,607.17" style="fill:#fcfdfb"/>
<ellipse cx="416.40" cy="604.20" rx="3.20" ry="6.60" transform="rotate(30 416.40 604.20)" style="stroke-width:0.7"/>
<ellipse cx="420.90" cy="607.00" rx="3.50" ry="7.00" transform="rotate(30 420.90 607.00)" style="fill:#fcfdfb;stroke-width:1.5"/>
<polygon points="417.50,609.50 417.51,608.83 417.58,608.15 417.70,607.47 417.89,606.78 418.12,606.10 418.41,605.44 418.75,604.80 419.14,604.19 419.57,603.60 420.03,603.06 420.54,602.56 421.07,602.11 421.62,601.71 422.20,601.37 422.79,601.09 423.38,600.87 423.98,600.72 424.58,600.63 425.16,600.61 425.73,600.65 426.28,600.77 426.81,600.95 433.61,604.25 434.10,604.49 434.56,604.80 434.98,605.16 435.35,605.58 435.67,606.05 435.95,606.57 436.17,607.13 436.34,607.72 436.45,608.35 436.50,609.00 436.49,609.67 436.42,610.35 436.30,611.03 436.11,611.72 435.88,612.40 435.59,613.06 435.25,613.70 434.86,614.31 434.43,614.90 433.97,615.44 433.46,615.94 432.93,616.39 432.38,616.79 431.80,617.13 431.21,617.41 430.62,617.63 430.02,617.78 429.42,617.87 428.84,617.89 428.27,617.85 427.72,617.73 427.19,617.55 420.39,614.25 419.90,614.01 419.44,613.70 419.02,613.34 418.65,612.92 418.33,612.45 418.05,611.93 417.83,611.37 417.66,610.78 417.55,610.15" style="fill:#fcfdfb"/>
<path d="M425.6,604.2 Q421.8,609.6 424.6,615.2 M427.4,605 Q423.6,610.4 426.4,616" style="stroke-width:0.7"/>
<ellipse cx="430.40" cy="610.90" rx="5.80" ry="7.50" transform="rotate(30 430.40 610.90)" style="fill:#fcfdfb;stroke-width:1.4"/>
<ellipse cx="430.80" cy="611.20" rx="4.00" ry="5.60" transform="rotate(30 430.80 611.20)" style="stroke-width:0.8"/>
<ellipse cx="450.50" cy="623.25" rx="6.20" ry="8.20" transform="rotate(30 450.50 623.25)" style="fill:#fcfdfb;stroke-width:1.5"/>
<ellipse cx="451.60" cy="623.80" rx="3.80" ry="5.40" transform="rotate(30 451.60 623.80)" style="stroke-width:1.0"/>
<path d="M459.6,625 L482.6,638.4 L480.6,643.6 L457.6,630.2 Z" style="fill:#fcfdfb"/>
<path d="M459.00,626.00 l-1.6,3.6 M460.55,626.90 l-1.6,3.6 M462.10,627.80 l-1.6,3.6 M463.65,628.70 l-1.6,3.6 M465.20,629.60 l-1.6,3.6 M466.75,630.50 l-1.6,3.6 M468.30,631.40 l-1.6,3.6 M469.85,632.30 l-1.6,3.6 M471.40,633.20 l-1.6,3.6 M472.95,634.10 l-1.6,3.6 M474.50,635.00 l-1.6,3.6 M476.05,635.90 l-1.6,3.6 M477.60,636.80 l-1.6,3.6 M479.15,637.70 l-1.6,3.6 M480.70,638.60 l-1.6,3.6" style="stroke-width:0.8"/>
<ellipse cx="489.50" cy="645.75" rx="6.34" ry="10.22" transform="rotate(30 489.50 645.75)" style="fill:#fcfdfb"/>
<ellipse cx="489.50" cy="645.75" rx="4.94" ry="8.62" transform="rotate(30 489.50 645.75)"/>
<polygon points="498.17,668.12 498.21,667.43 498.30,666.68 498.46,665.88 498.68,665.04 498.95,664.16 499.27,663.27 499.65,662.35 500.07,661.43 500.53,660.51 501.04,659.60 501.57,658.71 502.14,657.85 502.72,657.02 503.33,656.24 503.94,655.51 504.56,654.84 505.18,654.23 505.80,653.69 506.40,653.24 506.98,652.86 507.54,652.56 508.07,652.35 508.57,652.23 509.02,652.21 509.43,652.27 541.76,665.65 542.40,665.95 542.98,666.36 543.51,666.85 543.96,667.43 544.34,668.10 544.65,668.84 544.89,669.65 545.04,670.52 545.11,671.44 545.10,672.41 545.01,673.41 544.83,674.44 544.58,675.48 544.25,676.53 543.85,677.57 543.37,678.60 542.84,679.60 542.24,680.57 541.58,681.49 540.88,682.36 540.14,683.17 539.37,683.91 538.56,684.57 537.74,685.16 536.91,685.65 536.07,686.05 535.24,686.35 534.42,686.56 533.63,686.66 532.86,686.66 532.13,686.56 531.44,686.35 530.80,686.05 499.20,670.78 498.89,670.54 498.63,670.21 498.42,669.80 498.28,669.32 498.19,668.75" style="fill:#fcfdfb"/>
<path d="M516.2,656.4 Q511.6,666 515.8,676.2 M519,657.6 Q514.4,667.4 518.6,677.6" style="stroke-width:0.9"/>
<path d="M526.8,661.6 Q522.4,671.2 526.6,681.4 M529.8,663 Q525.4,672.6 529.6,682.8" style="stroke-width:0.9"/>
<polygon points="536.26,678.90 536.29,678.08 536.39,677.25 536.56,676.40 536.80,675.55 537.10,674.72 537.46,673.90 537.88,673.10 538.36,672.33 538.89,671.61 539.47,670.93 540.08,670.30 540.73,669.73 541.40,669.23 542.10,668.79 542.81,668.43 543.53,668.15 544.25,667.94 544.96,667.82 545.66,667.78 546.34,667.82 547.00,667.94 547.62,668.15 548.20,668.43 559.20,674.43 559.74,674.79 560.23,675.23 560.66,675.73 561.04,676.30 561.35,676.93 561.60,677.61 561.78,678.33 561.89,679.10 561.94,679.90 561.91,680.72 561.81,681.55 561.64,682.40 561.40,683.25 561.10,684.08 560.74,684.90 560.32,685.70 559.84,686.47 559.31,687.19 558.73,687.87 558.12,688.50 557.47,689.07 556.80,689.57 556.10,690.01 555.39,690.37 554.67,690.65 553.95,690.86 553.24,690.98 552.54,691.02 551.86,690.98 551.20,690.86 550.58,690.65 550.00,690.37 539.00,684.37 538.46,684.01 537.97,683.57 537.54,683.07 537.16,682.50 536.85,681.87 536.60,681.19 536.42,680.47 536.31,679.70" style="fill:#fcfdfb"/>
<ellipse cx="554.60" cy="682.40" rx="6.60" ry="9.20" transform="rotate(30 554.60 682.40)" style="fill:#fcfdfb"/>
<ellipse cx="555.20" cy="682.80" rx="4.20" ry="6.00" transform="rotate(30 555.20 682.80)" style="stroke-width:0.9"/>
<path d="M542.60,671.00 l-2.2,10.6 M544.10,671.80 l-2.2,10.6 M545.60,672.60 l-2.2,10.6 M547.10,673.40 l-2.2,10.6 M548.60,674.20 l-2.2,10.6 M550.10,675.00 l-2.2,10.6 M551.60,675.80 l-2.2,10.6 M553.10,676.60 l-2.2,10.6" style="stroke-width:0.7;stroke:#444"/>
<path d="M538.6,665.4 L546,668 L545.4,672.2" style="stroke-width:0.9"/>
<ellipse cx="569.75" cy="691.90" rx="7.10" ry="9.93" transform="rotate(30 569.75 691.90)" style="fill:#fcfdfb"/>
<ellipse cx="569.75" cy="691.90" rx="5.70" ry="8.33" transform="rotate(30 569.75 691.90)"/>
<path d="M605.60,521.60 C606.32,517.73 608.37,512.90 611.10,510.40 C613.83,507.90 618.18,507.37 622.00,506.60 C625.82,505.83 627.77,504.37 634.00,505.80 C640.23,507.23 651.40,510.97 659.40,515.20 C667.40,519.43 677.27,526.83 682.00,531.20 C686.73,535.57 687.73,537.83 687.80,541.40 C687.87,544.97 685.25,549.80 682.40,552.60 C679.55,555.40 676.42,557.27 670.70,558.20 C664.98,559.13 655.35,559.70 648.10,558.20 C640.85,556.70 634.08,553.30 627.20,549.20 C620.32,545.10 610.40,538.20 606.80,533.60 C603.20,529.00 604.88,525.47 605.60,521.60 Z" style="fill:#fcfdfb"/>
<path d="M605.9,527.6 Q608.6,537 616.6,542.4 L628.2,551.8 Q640,559.8 648.4,560.8 L670.4,561 Q680.6,558.6 684.6,553.4 Q687.6,549.6 687.9,545.4" style="stroke-width:0.9"/>
<path d="M624.80,524.60 C625.13,521.83 628.47,518.03 632.00,516.40 C635.53,514.77 641.17,514.43 646.00,514.80 C650.83,515.17 657.67,516.57 661.00,518.60 C664.33,520.63 666.33,524.17 666.00,527.00 C665.67,529.83 662.50,533.90 659.00,535.60 C655.50,537.30 649.83,537.63 645.00,537.20 C640.17,536.77 633.37,535.10 630.00,533.00 C626.63,530.90 624.47,527.37 624.80,524.60 Z" style="fill:#fcfdfb"/>
<ellipse cx="645.60" cy="527.40" rx="10.00" ry="5.60" transform="rotate(10 645.60 527.40)" style="fill:#fcfdfb"/>
<path d="M635.4,529.6 Q645.6,535.4 656,530" style="stroke-width:0.8"/>
<ellipse cx="619.20" cy="513.20" rx="6.00" ry="2.20" transform="rotate(-14 619.20 513.20)" style="fill:#fcfdfb"/>
<path d="M614.6,514.6 L623.4,512" style="stroke-width:1.6"/>
<ellipse cx="670.70" cy="544.60" rx="5.60" ry="4.60" transform="rotate(20 670.70 544.60)" style="fill:#fcfdfb"/>
<ellipse cx="671.20" cy="545.20" rx="3.00" ry="2.40" transform="rotate(20 671.20 545.20)" style="stroke-width:2.2;stroke:#333"/>
<path d="M640.6,553.6 L643.2,554.4" style="stroke-width:0.8"/>
<path d="M670.2,499.4 L670.6,514.8 L673.8,514.8 L673.8,499.4" style="fill:#fcfdfb"/>
<path d="M670.4,501.00 L673.8,501.60 M670.4,502.80 L673.8,503.40 M670.4,504.60 L673.8,505.20 M670.4,506.40 L673.8,507.00 M670.4,508.20 L673.8,508.80 M670.4,510.00 L673.8,510.60 M670.4,511.80 L673.8,512.40 M670.4,513.60 L673.8,514.20" style="stroke-width:0.8"/>
<path d="M667.8,498.4 Q668,493 672.3,492.6 Q676.6,493 676.8,498.4 Z" style="fill:#fcfdfb"/>
<path d="M604.8,585 Q604.6,578 610.6,574.6 Q619,569 632,568.6 Q644,569.6 656,576.4 L680.4,589.4 Q687.6,594 686.8,601.6 Q685.6,610.4 675.6,613.8 Q664,618 651.4,618.6 Q640,618 630,612.4 L614.4,602.6 Q605,595.6 604.8,585 Z" style="fill:#fcfdfb"/>
<path d="M605.2,589.6 Q607.6,598 616,604.4 L632,614.6 Q642,620.6 652,621 Q666,621 676,617 Q685,613 686.6,605" style="stroke-width:1.3"/>
<path d="M619.2,589.7 L636.9,580 Q640,578.6 644,579.6 L665.6,592 Q668.6,594.6 667.4,598 L662.6,607.2 Q660.6,609.6 656,609 L622,597.2 Q618.4,594.6 619.2,589.7 Z" style="fill:#fcfdfb"/>
<path d="M622.6,593.8 L638.6,585.6 L663.2,598.6 L659.6,605" style="stroke-width:0.8"/>
<polygon points="635.56,584.02 635.59,583.49 635.71,582.97 635.92,582.47 636.21,582.00 636.59,581.54 637.04,581.13 637.58,580.74 638.18,580.40 638.85,580.09 639.58,579.84 640.35,579.63 641.17,579.47 642.03,579.36 642.92,579.30 643.82,579.30 644.74,579.35 645.65,579.45 646.56,579.61 647.45,579.81 648.32,580.06 649.16,580.36 649.95,580.70 650.70,581.08 651.39,581.50 652.01,581.94 652.57,582.42 653.06,582.92 653.46,583.43 653.79,583.96 654.03,584.50 654.18,585.04 654.24,585.58 654.54,593.78 654.51,594.31 654.39,594.83 654.18,595.33 653.89,595.80 653.51,596.26 653.06,596.67 652.52,597.06 651.92,597.40 651.25,597.71 650.52,597.96 649.75,598.17 648.93,598.33 648.07,598.44 647.18,598.50 646.28,598.50 645.36,598.45 644.45,598.35 643.54,598.19 642.65,597.99 641.78,597.74 640.94,597.44 640.15,597.10 639.40,596.72 638.71,596.30 638.09,595.86 637.53,595.38 637.04,594.88 636.64,594.37 636.31,593.84 636.07,593.30 635.92,592.76 635.86,592.22" style="fill:#fcfdfb"/>
<ellipse cx="644.90" cy="584.80" rx="9.40" ry="5.40" transform="rotate(8 644.90 584.80)" style="fill:#fcfdfb"/>
<ellipse cx="644.90" cy="585.20" rx="5.60" ry="3.20" transform="rotate(8 644.90 585.20)" style="stroke-width:1.0"/>
<ellipse cx="619.20" cy="576.80" rx="3.60" ry="2.40" transform="rotate(10 619.20 576.80)" style="fill:#fcfdfb"/>
<ellipse cx="619.40" cy="577.00" rx="1.80" ry="1.20" transform="rotate(10 619.40 577.00)" style="stroke-width:0.8"/>
<ellipse cx="671.50" cy="607.40" rx="3.60" ry="2.40" transform="rotate(10 671.50 607.40)" style="fill:#fcfdfb"/>
<ellipse cx="671.60" cy="607.60" rx="1.80" ry="1.20" transform="rotate(10 671.60 607.60)" style="stroke-width:0.8"/>
<path d="M641.6,627.4 L641.8,638.4 L645,647.6 L648.4,638.2 L648.6,627.4" style="fill:#fcfdfb"/>
<path d="M642,634 L648.4,634 M642,636.6 L648.4,636.6" style="stroke-width:0.8"/>
<path d="M640.6,628 Q640.4,622.6 645,622.4 Q649.6,622.6 649.6,628 Z" style="fill:#fcfdfb"/>
<ellipse cx="645.00" cy="623.80" rx="3.80" ry="1.80" transform="rotate(0 645.00 623.80)" style="stroke-width:0.8"/>
<path d="M598,689.5 Q589,694 586.6,703.5 Q584.6,713 585.8,721 Q587.6,729 592.8,731.6 L627.8,749 Q636,752.4 641.8,750.8 Q648.6,748.6 650.6,743.8 Q653.4,738 653,733 L652,715 L600,700 Z" style="fill:#fcfdfb"/>
<path d="M587.2,704 Q585.4,707 586,712" style="stroke-width:1.6"/>
<path d="M593.8,730.6 L599,732.4" style="stroke-width:0.8"/>
<ellipse cx="639.80" cy="738.20" rx="11.40" ry="12.60" transform="rotate(-15 639.80 738.20)" style="fill:#fcfdfb;stroke-width:1.2"/>
<path d="M633.6,731.6 Q629.6,737 631.2,743.6 Q633.6,748.6 637.6,749.4" style="stroke-width:0.9"/>
<path d="M600.4,658 Q602.6,652.4 608,651.4 Q616,649.2 624.7,649 L637.75,649.4 Q642,650 646,652.4 L680.5,672 Q687.2,676 687.2,683 L685.8,708.6 Q685,716 679.2,719.6 L661,730.4 Q655,733.4 648.6,732.2 L612.4,722 Q601.8,718 600.6,708 L600,667.4 Q600,659.6 601.4,655.4 Z" style="fill:#fcfdfb"/>
<path d="M600.30,670.00 C601.08,670.93 599.95,673.03 605.00,675.60 C610.05,678.17 621.18,681.93 630.60,685.40 C640.02,688.87 653.93,694.70 661.50,696.40 C669.07,698.10 671.88,696.90 676.00,695.60 C680.12,694.30 684.50,689.77 686.20,688.60" style="stroke-width:1.1"/>
<path d="M604.50,660.80 C605.28,658.58 606.83,656.05 610.40,654.50 C613.97,652.95 620.55,651.60 625.90,651.50 C631.25,651.40 633.80,650.03 642.50,653.90 C651.20,657.77 671.37,669.85 678.10,674.70 C684.83,679.55 682.90,680.78 682.90,683.00 C682.90,685.22 681.67,686.40 678.10,688.00 C674.53,689.60 669.52,693.70 661.50,692.60 C653.48,691.50 639.30,685.53 630.00,681.40 C620.70,677.27 609.95,671.23 605.70,667.80 C601.45,664.37 603.72,663.02 604.50,660.80 Z" style="stroke-width:1.1"/>
<path d="M607.20,663.60 C608.00,662.03 609.20,658.53 612.40,657.00 C615.60,655.47 621.60,654.47 626.40,654.40 C631.20,654.33 633.03,652.93 641.20,656.60 C649.37,660.27 669.10,672.00 675.40,676.40 C681.70,680.80 679.07,681.40 679.00,683.00 C678.93,684.60 677.92,684.87 675.00,686.00 C672.08,687.13 668.83,691.03 661.50,689.80 C654.17,688.57 639.98,682.50 631.00,678.60 C622.02,674.70 611.57,668.90 607.60,666.40 C603.63,663.90 606.40,665.17 607.20,663.60 Z" style="stroke-width:0.8"/>
<ellipse cx="615.80" cy="656.60" rx="3.80" ry="2.00" transform="rotate(10 615.80 656.60)" style="fill:#fcfdfb"/>
<path d="M612.4,657.4 L612.4,669.8 M619.4,657.6 L619.6,671" style="stroke-width:0.8"/>
<path d="M607.6,665 L608,669" style="stroke-width:1.6"/>
<ellipse cx="669.60" cy="686.40" rx="4.00" ry="2.00" transform="rotate(10 669.60 686.40)" style="fill:#fcfdfb"/>
<path d="M670.6,660 L671,686" style="stroke-width:0.8;stroke-dasharray:6 3"/>
<path d="M644.8,699.8 L645.6,727.8 M651.4,701.6 L651.8,729.6" style="stroke-width:0.9"/>
<polygon points="666.60,752.40 670.40,744.60 678.20,741.60 684.60,744.40 685.80,752.40 682.00,760.40 674.40,763.40 667.60,760.40" style="fill:#fcfdfb"/>
<ellipse cx="677.20" cy="752.60" rx="5.20" ry="6.80" transform="rotate(30 677.20 752.60)" style="fill:#fcfdfb"/>
<ellipse cx="677.40" cy="752.80" rx="3.40" ry="4.80" transform="rotate(30 677.40 752.80)" style="stroke-width:1.4;stroke:#555"/>
<path d="M670.4,744.6 L673.2,751.6 L667.6,760.4" style="stroke-width:0.9"/>
<ellipse cx="694.00" cy="762.00" rx="4.60" ry="6.60" transform="rotate(30 694.00 762.00)" style="fill:#fcfdfb;stroke-width:1.6"/>
<ellipse cx="694.30" cy="762.20" rx="2.40" ry="3.80" transform="rotate(30 694.30 762.20)" style="stroke-width:1.0"/>
<ellipse cx="705.60" cy="769.00" rx="4.60" ry="6.60" transform="rotate(30 705.60 769.00)" style="fill:#fcfdfb;stroke-width:1.6"/>
<ellipse cx="705.90" cy="769.20" rx="2.40" ry="3.80" transform="rotate(30 705.90 769.20)" style="stroke-width:1.0"/>
<path d="M716.2,773.4 L734.4,782.6 L731.4,789.4 L713.6,780.4 Q711.2,776.6 716.2,773.4 Z" style="fill:#fcfdfb"/>
<path d="M716.00,775.00 l-2.6,5.6 M718.20,776.10 l-2.6,5.6 M720.40,777.20 l-2.6,5.6 M722.60,778.30 l-2.6,5.6 M724.80,779.40 l-2.6,5.6 M727.00,780.50 l-2.6,5.6 M729.20,781.60 l-2.6,5.6 M731.40,782.70 l-2.6,5.6" style="stroke-width:0.8;stroke:#444"/>
<ellipse cx="735.20" cy="786.60" rx="3.20" ry="6.00" transform="rotate(30 735.20 786.60)" style="fill:#fcfdfb"/>
<polygon points="733.53,789.32 733.57,788.89 733.64,788.46 733.75,788.03 733.89,787.61 734.07,787.20 734.28,786.80 734.52,786.42 734.79,786.06 735.08,785.72 735.40,785.41 735.73,785.13 736.09,784.89 736.45,784.68 736.82,784.51 737.20,784.38 737.58,784.29 737.96,784.24 738.33,784.23 738.70,784.27 739.05,784.34 739.38,784.46 739.70,784.62 743.50,786.82 743.79,787.01 744.06,787.24 744.31,787.51 744.52,787.81 744.70,788.14 744.84,788.49 744.96,788.86 745.03,789.26 745.07,789.66 745.07,790.08 745.03,790.51 744.96,790.94 744.85,791.37 744.71,791.79 744.53,792.20 744.32,792.60 744.08,792.98 743.81,793.34 743.52,793.68 743.20,793.99 742.87,794.27 742.51,794.51 742.15,794.72 741.78,794.89 741.40,795.02 741.02,795.11 740.64,795.16 740.27,795.17 739.90,795.13 739.55,795.06 739.22,794.94 738.90,794.78 735.10,792.58 734.81,792.39 734.54,792.16 734.29,791.89 734.08,791.59 733.90,791.26 733.76,790.91 733.64,790.54 733.57,790.14 733.53,789.74" style="fill:#fcfdfb"/>
<ellipse cx="741.20" cy="790.80" rx="3.40" ry="4.40" transform="rotate(30 741.20 790.80)" style="fill:#fcfdfb"/>
<ellipse cx="741.40" cy="791.00" rx="1.60" ry="2.40" transform="rotate(30 741.40 791.00)" style="stroke-width:1.3"/>
<ellipse cx="191.90" cy="632.50" rx="3.60" ry="6.00" transform="rotate(-25 191.90 632.50)" style="fill:#fcfdfb;stroke-width:1.4"/>
<ellipse cx="192.20" cy="632.80" rx="1.80" ry="3.00" transform="rotate(-25 192.20 632.80)" style="stroke-width:1.0"/>
<polyline points="196.80,632.60 201.40,634.20" style="stroke-width:0.8"/>
<polyline points="219.00,637.00 223.60,637.80" style="stroke-width:0.8"/>
<polyline points="233.00,639.40 237.00,640.40" style="stroke-width:0.8"/>
<path d="M235,662.5 L286.2,702.6 L282.6,711.4 L230,670 Z" style="fill:#fcfdfb;stroke:none"/>
<ellipse cx="284.40" cy="707.00" rx="2.70" ry="5.00" transform="rotate(38.7 284.40 707.00)" style="fill:#fcfdfb"/>
<ellipse cx="284.80" cy="706.80" rx="1.00" ry="2.20" transform="rotate(38.7 284.80 706.80)" style="stroke-width:0.9"/>
<path d="M207.4,641 Q207.6,649.6 211.6,653.4 L217.6,658.2 L234.4,661.2 Q228,652.4 223,652.4 L218.8,651.2 Q215,647.6 214.6,641.2 Z" style="fill:#fcfdfb"/>
<path d="M216.4,657.6 L222.6,651.2 Q225,651 226.4,652.6 L234.6,661.4 L230.4,667.6 Q228,668.2 226.6,666.8 L217.2,659.6 Q215.6,658.6 216.4,657.6 Z" style="fill:#fcfdfb"/>
<path d="M222.6,664.4 Q225.4,657.8 229.8,656.4" style="stroke-width:0.8"/>
<path d="M227.8,668.4 L233.6,661.8" style="stroke-width:2.0"/>
<path d="M235,662.4 L286.2,702.6 M230,670 L282.6,711.4"/>
<polygon points="196.89,632.17 196.90,631.42 196.97,630.69 197.11,629.99 197.31,629.31 197.57,628.67 197.88,628.08 198.26,627.54 198.68,627.05 199.15,626.62 199.67,626.25 200.22,625.95 200.80,625.72 201.42,625.56 202.05,625.48 202.70,625.47 203.35,625.53 204.01,625.67 211.66,628.07 212.32,628.28 212.96,628.56 213.59,628.91 214.19,629.32 214.77,629.80 215.32,630.33 215.82,630.91 216.28,631.53 216.69,632.20 217.05,632.90 217.35,633.62 217.60,634.36 217.78,635.12 217.90,635.88 217.96,636.63 217.95,637.38 217.88,638.11 217.74,638.81 217.54,639.49 217.28,640.13 216.97,640.72 216.59,641.26 216.17,641.75 215.70,642.18 215.18,642.55 214.63,642.85 214.05,643.08 213.43,643.24 212.80,643.32 212.15,643.33 211.50,643.27 210.84,643.13 203.19,640.73 202.53,640.52 201.89,640.24 201.26,639.89 200.66,639.48 200.08,639.00 199.53,638.47 199.03,637.89 198.57,637.27 198.16,636.60 197.80,635.90 197.50,635.18 197.25,634.44 197.07,633.68 196.95,632.92" style="fill:#fcfdfb"/>
<ellipse cx="211.25" cy="635.60" rx="5.80" ry="8.00" transform="rotate(-25 211.25 635.60)" style="fill:#fcfdfb"/>
<path d="M213.6,633.2 Q210,631.6 209.4,635.6 Q209.6,639.6 213,639 L213.2,636.6 L211.6,636.4" style="stroke-width:0.9"/>
<ellipse cx="228.10" cy="638.10" rx="4.20" ry="6.80" transform="rotate(-25 228.10 638.10)" style="fill:#fcfdfb;stroke-width:1.4"/>
<ellipse cx="228.40" cy="638.40" rx="2.00" ry="3.40" transform="rotate(-25 228.40 638.40)" style="stroke-width:1.0"/>
<path d="M238.4,637.6 L253.6,640.8 L253,646.6 L238,643.6 Q236,640.6 238.4,637.6 Z" style="fill:#fcfdfb"/>
<path d="M239.00,638.20 l-0.6,5.6 M240.80,638.58 l-0.6,5.6 M242.60,638.96 l-0.6,5.6 M244.40,639.34 l-0.6,5.6 M246.20,639.72 l-0.6,5.6 M248.00,640.10 l-0.6,5.6 M249.80,640.48 l-0.6,5.6 M251.60,640.86 l-0.6,5.6" style="stroke-width:0.8;stroke:#444"/>
<polygon points="253.80,639.40 258.40,639.80 259.60,645.80 256.40,648.60 253.00,647.20" style="fill:#fcfdfb"/>
<polygon points="256.17,644.39 256.18,644.04 256.21,643.69 256.27,643.36 256.36,643.03 256.47,642.73 256.61,642.44 256.77,642.17 256.95,641.92 257.15,641.70 257.37,641.51 257.60,641.35 257.85,641.22 258.11,641.12 258.37,641.05 258.65,641.02 258.92,641.03 259.20,641.07 262.40,641.67 262.68,641.74 262.95,641.84 263.21,641.98 263.47,642.15 263.71,642.35 263.93,642.58 264.15,642.83 264.34,643.10 264.51,643.39 264.66,643.71 264.78,644.03 264.88,644.37 264.96,644.71 265.01,645.06 265.03,645.41 265.02,645.76 264.99,646.11 264.93,646.44 264.84,646.77 264.73,647.07 264.59,647.36 264.43,647.63 264.25,647.88 264.05,648.10 263.83,648.29 263.60,648.45 263.35,648.58 263.09,648.68 262.83,648.75 262.55,648.78 262.28,648.77 262.00,648.73 258.80,648.13 258.52,648.06 258.25,647.96 257.99,647.82 257.73,647.65 257.49,647.45 257.27,647.22 257.05,646.97 256.86,646.70 256.69,646.41 256.54,646.09 256.42,645.77 256.32,645.43 256.24,645.09 256.19,644.74" style="fill:#fcfdfb"/>
<ellipse cx="262.20" cy="645.20" rx="2.80" ry="3.60" transform="rotate(-10 262.20 645.20)" style="fill:#fcfdfb"/>
<ellipse cx="262.30" cy="645.30" rx="1.20" ry="1.80" transform="rotate(-10 262.30 645.30)" style="stroke-width:1.2"/>
<path d="M296.20,712.50 C299.00,714.33 307.37,720.02 313.00,723.50 C318.63,726.98 325.08,731.15 330.00,733.40 C334.92,735.65 338.33,735.82 342.50,737.00 C346.67,738.18 350.83,739.08 355.00,740.50 C359.17,741.92 363.33,743.50 367.50,745.50 C371.67,747.50 375.83,749.46 380.00,752.50 C384.17,755.54 388.75,759.79 392.50,763.75 C396.25,767.71 400.83,774.17 402.50,776.25 L395.00,780.50 C392.83,777.92 386.17,768.83 382.00,765.00 C377.83,761.17 374.50,759.92 370.00,757.50 C365.50,755.08 361.67,752.85 355.00,750.50 C348.33,748.15 337.17,746.32 330.00,743.40 C322.83,740.48 318.04,736.69 312.00,733.00 C305.96,729.31 296.79,723.21 293.75,721.25 Z" style="fill:#fcfdfb;stroke:none"/>
<path d="M296.20,712.50 C299.00,714.33 307.37,720.02 313.00,723.50 C318.63,726.98 325.08,731.15 330.00,733.40 C334.92,735.65 338.33,735.82 342.50,737.00 C346.67,738.18 350.83,739.08 355.00,740.50 C359.17,741.92 363.33,743.50 367.50,745.50 C371.67,747.50 375.83,749.46 380.00,752.50 C384.17,755.54 388.75,759.79 392.50,763.75 C396.25,767.71 400.83,774.17 402.50,776.25"/>
<path d="M293.75,721.25 C296.79,723.21 305.96,729.31 312.00,733.00 C318.04,736.69 322.83,740.48 330.00,743.40 C337.17,746.32 348.33,748.15 355.00,750.50 C361.67,752.85 365.50,755.08 370.00,757.50 C374.50,759.92 377.83,761.17 382.00,765.00 C386.17,768.83 392.83,777.92 395.00,780.50"/>
<ellipse cx="294.40" cy="717.00" rx="1.80" ry="4.40" transform="rotate(-35 294.40 717.00)" style="fill:#fcfdfb"/>
<ellipse cx="294.60" cy="716.60" rx="0.70" ry="1.30" transform="rotate(-35 294.60 716.60)" style="stroke-width:1.0"/>
<path d="M394.2,780.6 L401.6,776 Q404.6,775.4 406,777.2 L412.9,789.4 L402.2,793.8 Q399.6,793 398.6,791 Z" style="fill:#fcfdfb"/>
<path d="M396.4,784.6 L405.4,780.2 M398.2,787.8 L407.8,783.4 M399.6,790.8 L409.8,786.6" style="stroke-width:0.8"/>
<path d="M402.3,804.5 Q406,811 412.9,815.9 Q416,818.6 418.6,818.3 Q421.4,817.6 422.6,815.9 L423,805.4 L432.4,799.6 Q432.2,796.6 430.75,796.4 L424.25,798 L414.5,799.6 Q413,797 411.25,796.4 L405,801 Z" style="fill:#fcfdfb"/>
<path d="M396.6,799.6 Q396.4,797.2 398.25,796.4 L406.4,794 Q409.6,793.4 411.25,796.4 Q412.6,799 412,801.25 L401.5,804.5 Q398,805 397.4,803.7 Z" style="fill:#fcfdfb"/>
<ellipse cx="408.00" cy="798.80" rx="1.60" ry="1.40" transform="rotate(0 408.00 798.80)" style="stroke-width:1.0"/>
<path d="M414.5,799.6 Q417,803 422.6,804.5" style="stroke-width:0.9"/>
<polygon points="421.00,806.10 427.50,804.50 435.60,809.40 440.50,814.25 438.90,820.75 432.40,821.60 423.40,816.70 420.20,811.80" style="fill:#fcfdfb"/>
<path d="M427.5,804.5 L428,811.6 L420.2,811.8 M428,811.6 L436.6,816 L440.5,814.25 M436.6,816 L432.4,821.6" style="stroke-width:0.9"/>
<ellipse cx="440.80" cy="817.00" rx="2.80" ry="4.20" transform="rotate(30 440.80 817.00)" style="fill:#fcfdfb"/>
<path d="M442.1,815.9 L456,826.4 Q461,831 465.6,838.4 L508.75,858.5 L507,862.4 L464.6,842.8 Q459.6,836.6 454.6,832.4 L440.5,820 Z" style="fill:#fcfdfb"/>
<path d="M445,819.2 L455.4,826.8" style="stroke-width:1.3;stroke-dasharray:1 1"/>
<path d="M508.75,858.5 L507,862.4" style="stroke-width:1.2"/>
<path d="M253.6,744.6 Q252,738.6 256.2,736.6 Q261,735.4 263.4,739.2 L269.6,741 Q272.6,745 270.6,749.8 L265.4,752.6 L258.6,750.6 Q254.4,748.8 253.6,744.6 Z" style="fill:#fcfdfb"/>
<ellipse cx="266.80" cy="745.40" rx="3.20" ry="5.40" transform="rotate(-15 266.80 745.40)" style="stroke-width:1.0"/>
<path d="M261.6,738 Q258,744 261.2,750.6" style="stroke-width:1.0"/>
<path d="M256.6,749.6 L255.4,754.4 M261.6,751.2 L261.2,756 M266.4,752 L268.4,754.6" style="stroke-width:1.3"/>
<path d="M325,779.4 L332.4,775.4 Q334.6,776.4 333.8,778.6 L326.6,782.6" style="fill:#fcfdfb"/>
<ellipse cx="322.90" cy="781.90" rx="2.80" ry="2.60" transform="rotate(-25 322.90 781.90)" style="fill:#fcfdfb"/>
<path d="M338.2,767.6 L343,770.4 Q346,767.4 351.6,767.6 Q358.4,768.6 358.4,773.6 Q357.8,778.2 351.2,778.6 Q346.6,778.4 343.6,776.4 L338.4,773.2 Z" style="fill:#fcfdfb"/>
<path d="M343,770.4 L343.6,776.4" style="stroke-width:0.9"/>
<path d="M345.4,771.8 Q349.4,769 353.6,770.2 Q356.6,772 354.6,774.6" style="stroke-width:0.9"/>
<ellipse cx="340.60" cy="771.00" rx="1.00" ry="1.20" transform="rotate(0 340.60 771.00)" style="stroke-width:1.0"/>
<path d="M374.6,818 L384.6,812.6 Q386.8,813.8 386.2,816.2 L376.4,822" style="fill:#fcfdfb"/>
<path d="M377.00,816.80 l1.6,3.0 M378.50,816.00 l1.6,3.0 M380.00,815.20 l1.6,3.0 M381.50,814.40 l1.6,3.0 M383.00,813.60 l1.6,3.0 M384.50,812.80 l1.6,3.0" style="stroke-width:0.7;stroke:#444"/>
<ellipse cx="372.40" cy="821.60" rx="3.60" ry="3.40" transform="rotate(-25 372.40 821.60)" style="fill:#fcfdfb"/>
<polyline points="388.20,815.40 397.40,804.60" class="d2"/>
<polygon points="475.94,784.00 475.96,783.58 476.02,783.15 476.12,782.71 476.25,782.28 476.41,781.84 476.61,781.42 476.83,781.00 477.08,780.60 477.35,780.22 477.64,779.86 477.96,779.53 478.29,779.23 478.63,778.96 478.98,778.73 479.34,778.53 479.70,778.37 480.06,778.25 480.41,778.18 480.76,778.15 481.09,778.16 481.41,778.21 481.72,778.31 482.00,778.44 487.00,781.24 487.26,781.42 487.49,781.64 487.70,781.89 487.88,782.17 488.02,782.49 488.14,782.83 488.21,783.20 488.26,783.59 488.26,784.00 488.24,784.42 488.18,784.85 488.08,785.29 487.95,785.72 487.79,786.16 487.59,786.58 487.37,787.00 487.12,787.40 486.85,787.78 486.56,788.14 486.24,788.47 485.91,788.77 485.57,789.04 485.22,789.27 484.86,789.47 484.50,789.63 484.14,789.75 483.79,789.82 483.44,789.85 483.11,789.84 482.79,789.79 482.48,789.69 482.20,789.56 477.20,786.76 476.94,786.58 476.71,786.36 476.50,786.11 476.32,785.83 476.18,785.51 476.06,785.17 475.99,784.80 475.94,784.41" style="fill:#fcfdfb"/>
<ellipse cx="479.60" cy="782.60" rx="3.20" ry="4.80" transform="rotate(30 479.60 782.60)" style="fill:#fcfdfb"/>
<path d="M480.6,778.6 L478.6,786.4 M482.2,779.6 L480.2,787.4 M483.8,780.4 L481.8,788.2" style="stroke-width:0.7;stroke:#555"/>
<path d="M484.4,779 L489.6,780.2 L496.6,784.6 Q498.4,786.6 497.6,789.2 L494.6,794.6 L488.4,796.6 Q484.6,796 482.6,792.6 L482,786 Z" style="fill:#fcfdfb"/>
<path d="M485.6,781.4 L484,793 M490.6,783.6 L489.4,795.6 M490.6,783.6 L496.8,786.6" style="stroke-width:0.9"/>
<path d="M493.2,791.8 L498.6,789 L502.2,795.8 L497.6,799 Z" style="fill:#fcfdfb"/>
<path d="M495.2,793.4 L500.4,797 M497,791 L501.2,794.4" style="stroke-width:0.9"/>
<path d="M525.6,867.5 L591.6,900.8 L620,916.2 Q624.6,918.4 626.4,915 L635.6,883.4 Q638,880 641.2,880.6 Q643.6,881.2 646.2,883.6 L658.1,894 L675,906.2 L690.75,916.2 L708.2,925.2 Q716.6,929.6 715.2,933.2 Q714,936.4 710.6,937.8" style="stroke-width:4.4;stroke:#161616"/>
<path d="M525.6,867.5 L591.6,900.8 L620,916.2 Q624.6,918.4 626.4,915 L635.6,883.4 Q638,880 641.2,880.6 Q643.6,881.2 646.2,883.6 L658.1,894 L675,906.2 L690.75,916.2 L708.2,925.2 Q716.6,929.6 715.2,933.2 Q714,936.4 710.6,937.8" style="stroke-width:2.2;stroke:#fcfdfb"/>
<path d="M525.4,867.4 L523.8,870.8" style="stroke-width:1.2"/>
<path d="M591.8,898.6 L590.6,903" style="stroke-width:0.9"/>
<ellipse cx="699.30" cy="940.80" rx="7.60" ry="6.40" transform="rotate(-20 699.30 940.80)" style="fill:#fcfdfb;stroke-width:1.2"/>
<ellipse cx="700.00" cy="940.40" rx="3.80" ry="3.00" transform="rotate(-20 700.00 940.40)" style="stroke-width:1.1"/>
<path d="M704.6,935.6 L712.2,938.6" style="stroke-width:0.9"/>
</g>
<g class="lb" style="opacity:0.999">
<text x="242.2" y="112.5" fill="#000">22</text>
<text x="146.5" y="161.75" fill="#000">23</text>
<text x="127.5" y="236" fill="#000">30</text>
<text x="63.1" y="284.75" fill="#000">6</text>
<text x="48" y="306.25" fill="#000">7</text>
<text x="213" y="328.75" fill="#000">11</text>
<text x="136.5" y="388.75" fill="#000">1</text>
<text x="168.5" y="402.75" fill="#000">5</text>
<text x="188.5" y="419.75" fill="#000">20</text>
<text x="81" y="497.5" fill="#000">26</text>
<text x="119.7" y="514.4" fill="#000">12</text>
<text x="257.5" y="461.25" fill="#000">20</text>
<text x="178" y="541.25" fill="#000">15</text>
<text x="242.5" y="573.75" fill="#000">14</text>
<text x="333" y="497.75" fill="#000">13</text>
<text x="304" y="602.75" fill="#000">21</text>
<text x="373" y="528.75" fill="#000">20</text>
<text x="474" y="571.25" fill="#000">21</text>
<text x="579.5" y="493.75" fill="#000">28</text>
<text x="636.5" y="476.75" fill="#000">2</text>
<text x="579.5" y="557.75" fill="#000">25</text>
<text x="758" y="579.75" fill="#000">29</text>
<text x="604.5" y="621.25" fill="#000">27</text>
<text x="571" y="634.4" fill="#000">24</text>
<text x="175.6" y="596.25" fill="#000">17</text>
<text x="295" y="691.25" fill="#000">18</text>
<text x="354" y="704.25" fill="#000">16</text>
<text x="430" y="741.75" fill="#000">19</text>
<text x="729" y="727.75" fill="#000">17</text>
<text x="751" y="749.75" fill="#000">18</text>
<text x="242.5" y="795.75" fill="#000">10</text>
<text x="305" y="830.25" fill="#000">4</text>
<text x="335" y="825.75" fill="#000">9</text>
<text x="514.5" y="841.25" fill="#000">31</text>
<text x="356" y="873.75" fill="#000">3</text>
<text x="655" y="803.5" fill="#000">8</text>
</g>

<defs><mask id="lm" maskUnits="userSpaceOnUse" x="0" y="0" width="800" height="1025">
<rect x="0" y="0" width="800" height="1025" fill="#fff"/>
<polygon points="653,810.5 591,925 719.7,925" fill="#000"/>
<polygon points="577,907.4 684.6,907.4 673,886.5 588,886.5" fill="#fff"/>
<polygon points="650,843 684.6,907.4 660,907.4 639,864" fill="#fff"/>
</mask></defs>
<g class="logo" mask="url(#lm)" opacity="0.5">
<polygon points="609,768 507.8,945.5 532.8,945.5 610,811 652,888 684.6,907.4"/>
<polygon points="652,768 755.6,945.5 547,945.5 558,925 719.7,925 653,810.5 600.6,907.4 577,907.4"/>
<polygon points="577,907.4 684.6,907.4 673,886.5 588,886.5"/>
<polygon points="650,843 684.6,907.4 660,907.4 639,864"/>
</g>

<text class="brand" style="opacity:0.999" x="470.8" y="973.8" textLength="321" lengthAdjust="spacingAndGlyphs"><tspan fill="#fcd08e" stroke="#fcd08e">AUTO</tspan><tspan fill="#f4a3a3" stroke="#f4a3a3">MOTO</tspan><tspan fill="#8f8f8f" stroke="#8f8f8f">HUB</tspan></text>
<rect x="0.5" y="0.5" width="799" height="1024" fill="none" stroke="#3c3c3c" stroke-width="1"/><rect x="1.75" y="1.75" width="796.5" height="1021.5" fill="none" stroke="#080808" stroke-width="1.7"/>
</svg>
</body></html>
